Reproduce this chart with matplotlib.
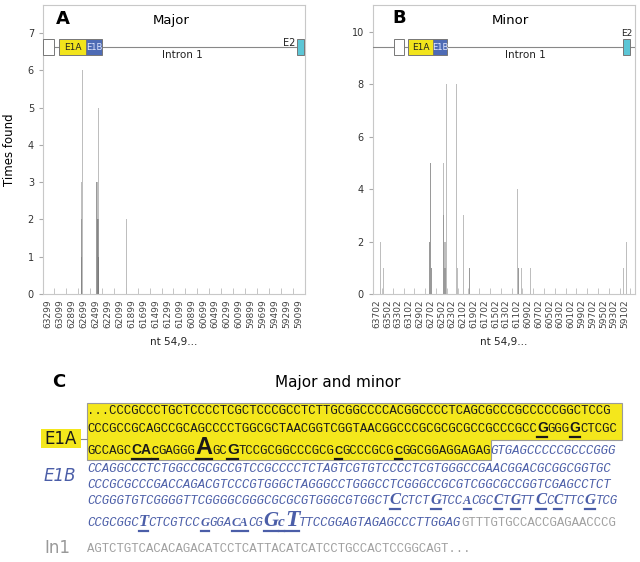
import matplotlib
matplotlib.use('Agg')
import matplotlib.pyplot as plt
from matplotlib.patches import Rectangle, Polygon
from matplotlib.lines import Line2D

W, H = 640, 562


def fx(x):
    return x / W


def fy(y):
    return 1 - y / H


# ---- data: panel A (major) ----
ticks_a = [63299, 63099, 62899, 62699, 62499, 62299, 62099, 61899, 61699, 61499, 61299,
           61099, 60899, 60699, 60499, 60299, 60099, 59899, 59699, 59499, 59299, 59099]
pos_a = [62745, 62745, 62740, 62728, 62480, 62478, 62470, 62462, 62458, 62452, 62448, 61985]
cnt_a = [3, 2, 1, 6, 3, 3, 2, 2, 1, 1, 5, 2]

# ---- data: panel B (minor) ----
ticks_b = [63702, 63502, 63302, 63102, 62902, 62702, 62502, 62302, 62102, 61902, 61702, 61502,
           61302, 61102, 60902, 60702, 60502, 60302, 60102, 59902, 59702, 59502, 59302, 59102]
pos_b = [63628, 63567, 62724, 62715, 62696, 62696, 62687, 62687, 62465, 62456, 62446, 62446,
         62428, 62428, 62409, 62221, 62206, 62085, 61987, 61987, 61085, 61067, 61067, 61024,
         60845, 59135, 59080]
cnt_b = [2, 1, 2, 2, 5, 5, 1, 1, 3, 5, 2, 1, 2, 1, 8, 8, 1, 3, 1, 1, 4, 1, 1, 1, 1, 1, 2]

# gene schematic (nt)
exon_names = ['', 'E1A', 'E1B', 'E2']
exon_start = [63390, 63115, 62665, 59135]
exon_end = [63200, 62665, 62395, 59015]
exon_colors = ['white', '#f2e41c', '#4e6bb5', '#5cc6d6']

# ---- panel C sequence lines: (kind, text, size, underline) ----
seq_lines = [
    [('a', '...CCCGCCCTGCTCCCCTCGCTCCCGCCTCTTGCGGCCCCACGGCCCCTCAGCGCCCGCCCCCGGCTCCG', 0, False)],
    [('a', 'CCCGCCGCAGCCGCAGCCCCTGGCGCTAACGGTCGGTAACGGCCCGCGCGCGCCGCCCGCC', 0, False),
     ('a', 'G', 10, True), ('a', 'GGG', 0, False), ('a', 'G', 10, True), ('a', 'CTCGC', 0, False)],
    [('a', 'GCCAGC', 0, False), ('a', 'CA', 10, True), ('a', 'C', 7, True), ('a', 'GAGGG', 0, False),
     ('a', 'A', 17, True), ('a', 'GC', 0, False), ('a', 'G', 11, True),
     ('a', 'TCCGCGGCCCGCG', 0, False), ('a', 'C', 8, True), ('a', 'GCCCGCG', 0, False),
     ('a', 'C', 8, True), ('a', 'GGCGGAGGAGAG', 0, False), ('b', 'GTGAGCCCCCGCCCGGG', 0, False)],
    [('b', 'CCAGGCCCTCTGGCCGCGCCGTCCGCCCCTCTAGTCGTGTCCCCTCGTGGGCCGAACGGACGCGGCGGTGC', 0, False)],
    [('b', 'CCCGCGCCCGACCAGACGTCCCGTGGGCTAGGGCCTGGGCCTCGGGCCGCGTCGGCGCCGGTCGAGCCTCT', 0, False)],
    [('b', 'CCGGGTGTCGGGGTTCGGGGCGGGCGCGCGTGGGCGTGGCT', 0, False), ('b', 'C', 12, True),
     ('b', 'CTCT', 0, False), ('b', 'G', 11, True), ('b', 'TCC', 0, False), ('b', 'A', 9, True),
     ('b', 'CGC', 0, False), ('b', 'C', 10, True), ('b', 'T', 0, False), ('b', 'G', 10, True),
     ('b', 'TT', 0, False), ('b', 'C', 12, True), ('b', 'C', 0, False), ('b', 'C', 10, True),
     ('b', 'TTC', 0, False), ('b', 'G', 11, True), ('b', 'TCG', 0, False)],
    [('b', 'CCGCGGC', 0, False), ('b', 'T', 12, True), ('b', 'CTCGTCC', 0, False), ('b', 'G', 9, True),
     ('b', 'GGA', 0, False), ('b', 'CA', 9, True), ('b', 'CG', 0, False), ('b', 'G', 15, True),
     ('b', 'c', 11, True), ('b', 'T', 17, True), ('b', 'TTCCGGAGTAGAGCCCTTGGAG', 0, False),
     ('i', 'GTTTGTGCCACCGAGAACCCG', 0, False)],
    [('i', 'AGTCTGTCACACAGACATCCTCATTACATCATCCTGCCACTCCGGCAGT...', 0, False)],
]
line_y = [411, 429, 451, 468, 484, 501, 523, 548]

seq_colors = {'a': '#1a1a1a', 'b': '#4b5ea8', 'i': '#a0a0a0'}

fig = plt.figure(figsize=(6.4, 5.62), dpi=100)
axA = fig.add_axes([fx(43), fy(294), (305 - 43) / W, (294 - 5) / H])
axB = fig.add_axes([fx(373), fy(294), (635 - 373) / W, (294 - 5) / H])


def style_axes(ax, ticks, xlim, ytop, yticks):
    ax.set_xlim(xlim)
    ax.set_ylim(0, ytop)
    ax.set_xticks(ticks)
    ax.set_xticklabels([str(t) for t in ticks], rotation=90, fontsize=6.5, color='#444')
    ax.set_xticks([t - 100 for t in ticks], minor=True)
    ax.tick_params(axis='x', which='major', length=0, pad=4)
    ax.tick_params(axis='x', which='minor', direction='in', length=4, color='#bbb')
    ax.set_yticks(yticks)
    ax.tick_params(axis='y', length=3, color='#aaa', labelsize=7, labelcolor='#333')
    for s in ax.spines.values():
        s.set_color('#c8c8c8')
        s.set_linewidth(0.8)


def schematic(ax, xlim):
    tr = ax.get_xaxis_transform()
    ax.plot(xlim, [0.854, 0.854], transform=tr, color='#888', lw=0.8, zorder=3)
    for name, s, e, c in zip(exon_names, exon_start, exon_end, exon_colors):
        ax.add_patch(Rectangle((min(s, e), 0.827), abs(s - e), 0.055, transform=tr,
                               facecolor=c, edgecolor='#777', lw=0.7, zorder=4))
        if name in ('E1A', 'E1B'):
            ax.text((s + e) / 2, 0.854, name, transform=tr, ha='center', va='center',
                    fontsize=6.5 if name == 'E1A' else 6,
                    color='#222' if name == 'E1A' else '#e4e9ff', zorder=5)


xlim_a = (63382, 59016)
xlim_b = (63770, 58917)

axA.bar(pos_a, cnt_a, width=18, color='#707070', alpha=0.45, linewidth=0)
axB.bar(pos_b, cnt_b, width=18, color='#707070', alpha=0.45, linewidth=0)
style_axes(axA, ticks_a, xlim_a, 7.75, range(0, 8))
style_axes(axB, ticks_b, xlim_b, 11.03, range(0, 11, 2))
schematic(axA, xlim_a)
schematic(axB, xlim_b)

trA = axA.get_xaxis_transform()
trB = axB.get_xaxis_transform()
axA.text(exon_start[3] + 20, 0.868, 'E2', transform=trA, ha='right', va='center', fontsize=7, color='#222')
axB.text((exon_start[3] + exon_end[3]) / 2, 0.885, 'E2', transform=trB, ha='center', va='bottom',
         fontsize=6.5, color='#222')
axA.text(61049, 0.826, 'Intron 1', transform=trA, ha='center', va='center', fontsize=7.5, color='#222')
axB.text(60950, 0.826, 'Intron 1', transform=trB, ha='center', va='center', fontsize=7.5, color='#222')

axA.text(0.05, 0.952, 'A', transform=axA.transAxes, fontsize=13, weight='bold', va='center')
axA.text(0.49, 0.948, 'Major', transform=axA.transAxes, fontsize=9.5, ha='center', va='center')
axB.text(0.073, 0.955, 'B', transform=axB.transAxes, fontsize=13, weight='bold', va='center')
axB.text(0.523, 0.945, 'Minor', transform=axB.transAxes, fontsize=9.5, ha='center', va='center')

fig.text(fx(10), fy(150), 'Times found', rotation=90, fontsize=8.5, ha='center', va='center')
fig.text(fx(174), fy(342), 'nt 54,9...', fontsize=7.5, ha='center', va='center', color='#222')
fig.text(fx(504), fy(342), 'nt 54,9...', fontsize=7.5, ha='center', va='center', color='#222')

# ---- panel C ----
fig.text(fx(59), fy(382), 'C', fontsize=13, weight='bold', ha='center', va='center')
fig.text(fx(338), fy(382), 'Major and minor', fontsize=11, ha='center', va='center')

renderer = fig.canvas.get_renderer()
x0 = 87
yellow_step = 493
for li, (line, y) in enumerate(zip(seq_lines, line_y)):
    x = x0
    base = y + 3.5
    for kind, txt, size, ul in line:
        if li == 2 and kind == 'b' and x < 560:
            yellow_step = x
        kw = dict(color=seq_colors[kind], va='baseline', ha='left', zorder=3)
        if size == 0:
            kw.update(family='Liberation Mono', fontsize=8.9,
                      style='italic' if kind == 'b' else 'normal')
        elif kind == 'a':
            kw.update(family='Liberation Sans', fontsize=size, weight='bold')
        else:
            kw.update(family='Liberation Serif', fontsize=size, weight='bold', style='italic')
        t = fig.text(fx(x), fy(base), txt, **kw)
        w = t.get_window_extent(renderer).width
        if ul:
            fig.add_artist(Line2D([fx(x + 0.5), fx(x + w - 0.5)], [fy(base + 4.5)] * 2,
                                  color=seq_colors[kind], lw=1.6, zorder=3))
        x += w

yellow_pts = [(86.5, 403), (622, 403), (622, 440), (yellow_step, 440), (yellow_step, 460), (86.5, 460)]
fig.add_artist(Polygon([(fx(a), fy(b)) for a, b in yellow_pts], closed=True, transform=fig.transFigure,
                       facecolor='#f4e71c', edgecolor='#9a9a9a', lw=0.8, zorder=1))

fig.add_artist(Rectangle((fx(41), fy(448)), 40 / W, 19 / H, transform=fig.transFigure,
                         facecolor='#f4e71c', edgecolor='none', zorder=1))
fig.add_artist(Line2D([fx(81), fx(87)], [fy(439)] * 2, color='#888', lw=0.8))
fig.text(fx(61), fy(439), 'E1A', fontsize=12, ha='center', va='center', color='#1a1a1a')
fig.text(fx(60), fy(476), 'E1B', fontsize=12, style='italic', ha='center', va='center', color='#4b5ea8')
fig.text(fx(44), fy(548), 'In1', fontsize=12, ha='left', va='center', color='#999')

fig.savefig('out.png', dpi=100)
